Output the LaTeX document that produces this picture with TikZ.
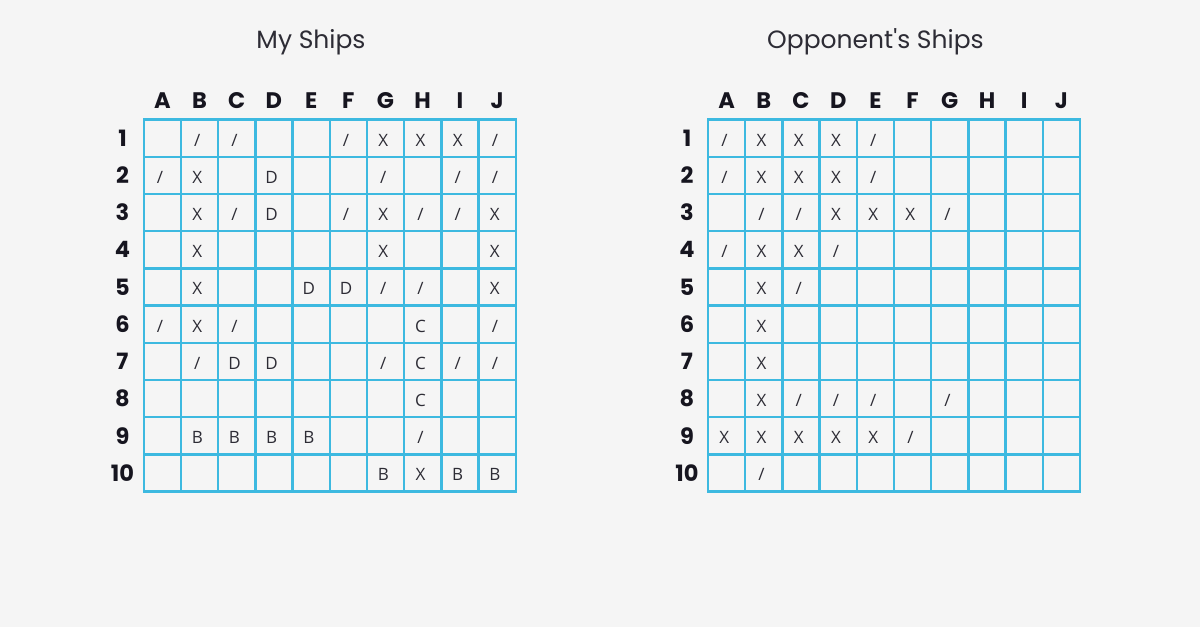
\documentclass[tikz,border=0pt]{standalone}
\usepackage{fontspec}
\setmainfont{Open Sans}
\newfontfamily\poppins{Poppins}
\usetikzlibrary{matrix, positioning}
\definecolor{gridblue}{HTML}{3DB9E0}
\definecolor{paper}{HTML}{F5F5F5}
\definecolor{ink}{HTML}{16151F}
\tikzset{%
board/.style={
    matrix of nodes,
    line width=2.4pt,
    column sep=-\pgflinewidth,
    row sep=-\pgflinewidth,
    nodes in empty cells,
    nodes={rectangle, draw=gridblue,
      minimum height=37.2pt, minimum width=37.2pt,
      anchor=center,
      align=center,
      inner sep=0pt, outer sep=0pt,
      text height=16pt, text depth=0pt,
      font=\fontsize{17}{17}\selectfont, text=ink!90
    }
  },
boardtitle/.style={font=\poppins\fontsize{25}{25}\selectfont, text=ink!90, anchor=base},
headtext/.style={font=\poppins\bfseries\fontsize{22.5}{22.5}\selectfont, text=ink, inner sep=0pt}
}
\begin{document}
\begin{tikzpicture}[x=1pt, y=-1pt]
\fill[paper] (0,0) rectangle (1200,627);
\useasboundingbox (0,0) rectangle (1200,627);

\matrix[board] (my) at (329.7,305.5)
{
  & / & / & & & / & X & X & X & / \\
/ & X & & D & & & / & & / & / \\
  & X & / & D & & / & X & / & / & X \\
  & X & & & & & X & & & X \\
  & X & & & D & D & / & / & & X \\
/ & X & / & & & & & C & & / \\
  & / & D & D & & & / & C & / & / \\
  & & & & & & & C & & \\
  & B & B & B & B & & & / & & \\
  & & & & & & B & X & B & B \\
};
\matrix[board] (opp) at (894,305.5)
{
/ & X & X & X & / & & & & & \\
/ & X & X & X & / & & & & & \\
  & / & / & X & X & X & / & & & \\
/ & X & X & / & & & & & & \\
  & X & / & & & & & & & \\
  & X & & & & & & & & \\
  & X & & & & & & & & \\
  & X & / & / & / & & / & & & \\
X & X & X & X & X & / & & & & \\
  & / & & & & & & & & \\
};

\node[boardtitle] (mytitle) at (311,48) {My Ships};
\node[boardtitle] (opptitle) at (875.5,48) {Opponent's Ships};

\foreach \c [count=\i] in {A,B,C,D,E,F,G,H,I,J} {
  \node[headtext, anchor=base] (myhead-\i) at (my-1-\i.center |- 0,108) {\c};
  \node[headtext, anchor=base] (opphead-\i) at (opp-1-\i.center |- 0,108) {\c};
}
\foreach \r in {1,...,10} {
  \node[headtext] (myrow-\r) at (my-\r-1.center -| 122.5,0) {\r};
  \node[headtext] (opprow-\r) at (opp-\r-1.center -| 687,0) {\r};
}
\end{tikzpicture}
\end{document}
